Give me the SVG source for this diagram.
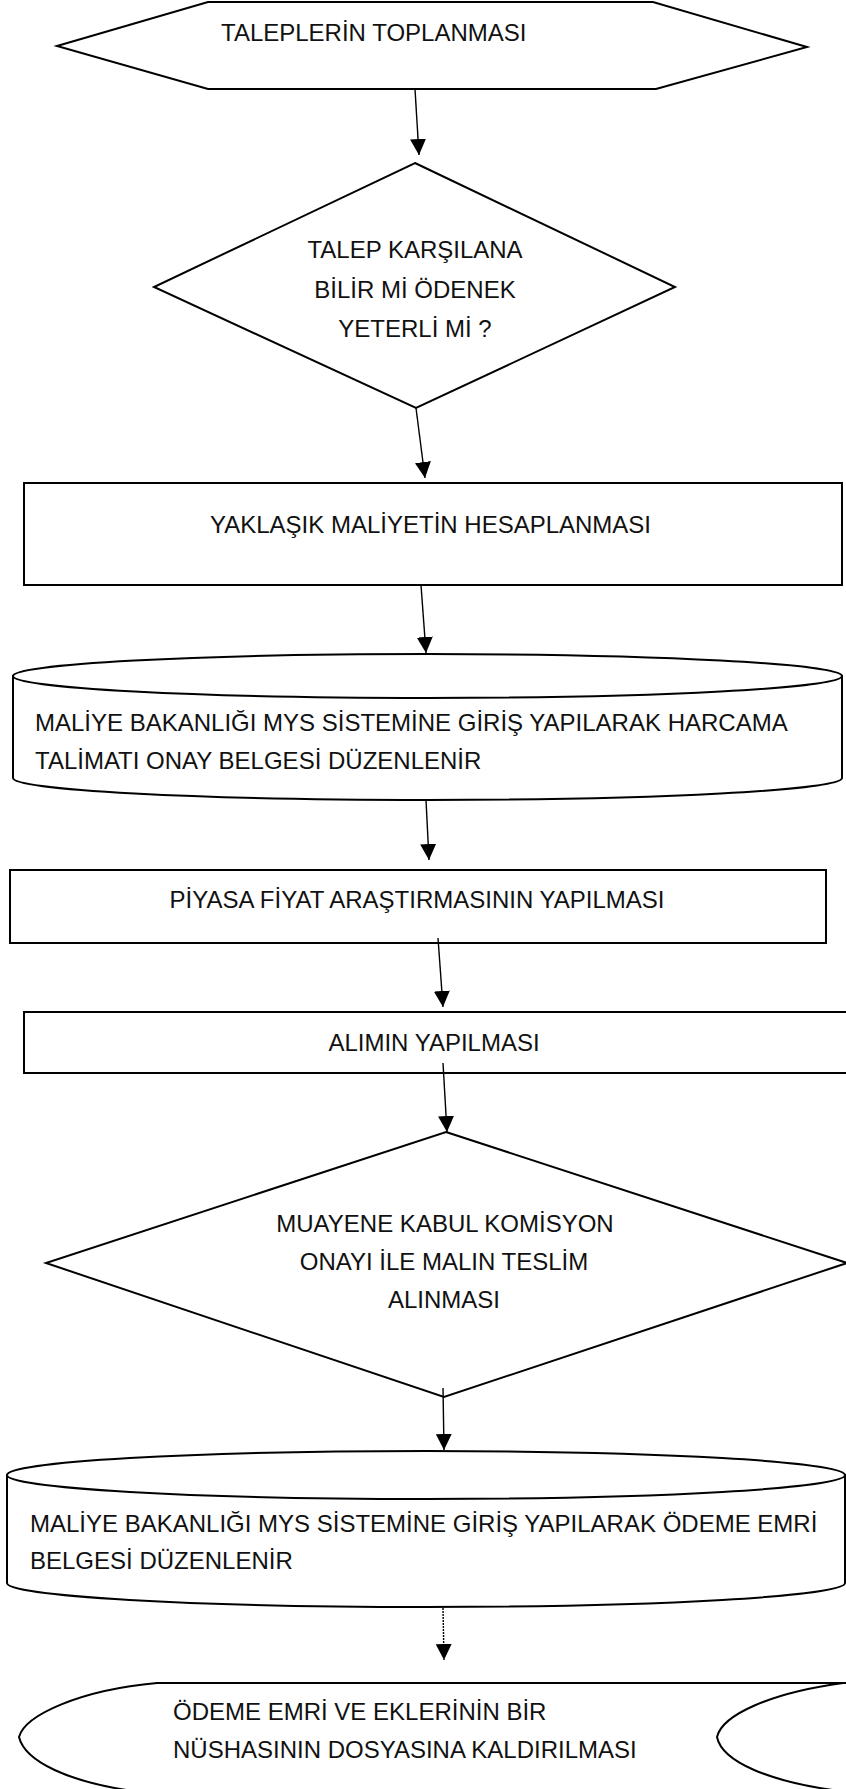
<svg xmlns="http://www.w3.org/2000/svg" width="846" height="1789" viewBox="0 0 846 1789">
<style>
.shape{fill:#fff;stroke:#000;stroke-width:2;stroke-linejoin:miter}
.edge{fill:none;stroke:#000;stroke-width:1.4}
.lbl{font-family:"Liberation Sans",Arial,sans-serif;font-size:24px;fill:#111}
.c{text-anchor:middle}
</style>
<defs>
<marker id="arr" markerUnits="userSpaceOnUse" markerWidth="16" markerHeight="16" refX="16" refY="8" orient="auto">
<path d="M0,0 L16,8 L0,16 Z" fill="#000"/>
</marker>
</defs>
<rect width="846" height="1789" fill="#fff"/>

<g id="n1">
<polygon class="shape" points="57,46 208,2 653,2 807,47 656,89 208,89"/>
<text class="lbl" x="221" y="41">TALEPLERİN TOPLANMASI</text>
</g>

<g id="n2">
<polygon class="shape" points="415,163 675,287 416,408 154,287"/>
<text class="lbl c" x="415" y="258">TALEP KARŞILANA</text>
<text class="lbl c" x="415" y="298">BİLİR Mİ ÖDENEK</text>
<text class="lbl c" x="415" y="337">YETERLİ Mİ ?</text>
</g>

<g id="n3">
<rect class="shape" x="24" y="483" width="818" height="102"/>
<text class="lbl" x="210" y="533">YAKLAŞIK MALİYETİN HESAPLANMASI</text>
</g>

<g id="n4">
<path class="shape" d="M13,676 L13,778 A414.5,22 0 0 0 842,778 L842,676 Z"/>
<ellipse class="shape" cx="427.5" cy="676" rx="414.5" ry="22"/>
<text class="lbl" x="35" y="731">MALİYE BAKANLIĞI MYS SİSTEMİNE GİRİŞ YAPILARAK HARCAMA</text>
<text class="lbl" x="35" y="769">TALİMATI ONAY BELGESİ DÜZENLENİR</text>
</g>

<g id="n5">
<rect class="shape" x="10" y="870" width="816" height="73"/>
<text class="lbl c" x="417" y="908">PİYASA FİYAT ARAŞTIRMASININ YAPILMASI</text>
</g>

<g id="n6">
<rect class="shape" x="24" y="1012" width="826" height="61"/>
<text class="lbl c" x="434" y="1051">ALIMIN YAPILMASI</text>
</g>

<g id="n7">
<polygon class="shape" points="446,1132 847,1263 444,1397 46,1263"/>
<text class="lbl c" x="445" y="1232">MUAYENE KABUL KOMİSYON</text>
<text class="lbl c" x="444" y="1270">ONAYI İLE MALIN TESLİM</text>
<text class="lbl c" x="444" y="1308">ALINMASI</text>
</g>

<g id="n8">
<path class="shape" d="M7,1475 L7,1583 A419,24 0 0 0 845,1583 L845,1475 Z"/>
<ellipse class="shape" cx="426" cy="1475" rx="419" ry="24"/>
<text class="lbl" x="30" y="1532">MALİYE BAKANLIĞI MYS SİSTEMİNE GİRİŞ YAPILARAK ÖDEME EMRİ</text>
<text class="lbl" x="30" y="1569">BELGESİ DÜZENLENİR</text>
</g>

<g id="n9">
<path class="shape" d="M157,1683 L848,1683 L843,1683 C770,1693 722,1715 717,1737 C722,1762 770,1782 840,1791 L133,1791 C70,1782 25,1762 19,1737 C25,1715 80,1690 157,1683 Z"/>
<text class="lbl" x="173" y="1720">ÖDEME EMRİ VE EKLERİNİN BİR</text>
<text class="lbl" x="173" y="1758">NÜSHASININ DOSYASINA KALDIRILMASI</text>
</g>

<g id="connectors">
<line class="edge" x1="415" y1="89" x2="419" y2="155" marker-end="url(#arr)"/>
<line class="edge" x1="416" y1="408" x2="425" y2="478" marker-end="url(#arr)"/>
<line class="edge" x1="421" y1="585" x2="426" y2="653" marker-end="url(#arr)"/>
<line class="edge" x1="426" y1="800" x2="429" y2="860" marker-end="url(#arr)"/>
<line class="edge" x1="438" y1="938" x2="443" y2="1007" marker-end="url(#arr)"/>
<line class="edge" x1="443" y1="1063" x2="447" y2="1132" marker-end="url(#arr)"/>
<line class="edge" x1="443" y1="1388" x2="444" y2="1450" marker-end="url(#arr)"/>
<line class="edge" x1="443" y1="1608" x2="444" y2="1660" stroke="#555" stroke-dasharray="2 1" marker-end="url(#arr)"/>
</g>
</svg>
